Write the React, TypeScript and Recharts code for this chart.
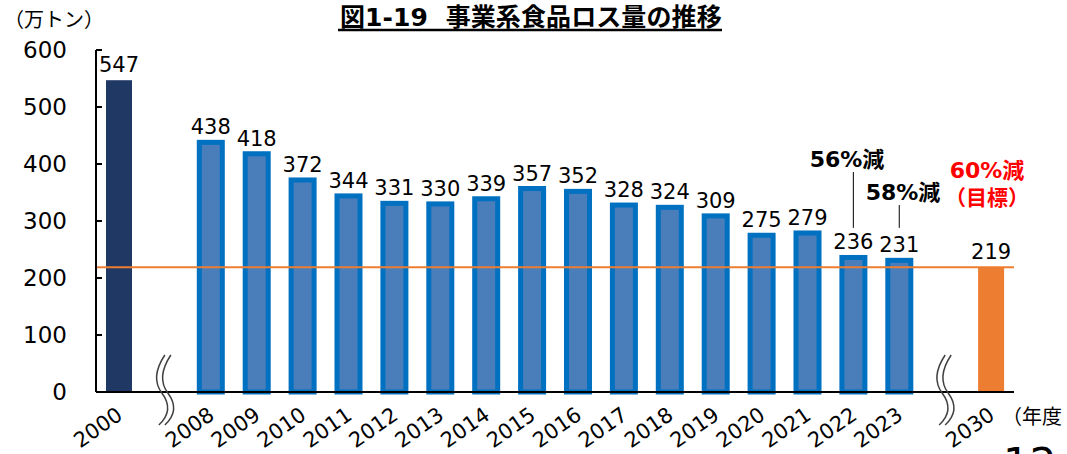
import React from "react"
import { BarChart, Bar, XAxis, YAxis, LabelList, ReferenceLine } from "recharts"

// 年度 (空白はグラフの省略部分)
const years = ["2000", " ", "2008", "2009", "2010", "2011", "2012", "2013", "2014", "2015", "2016", "2017", "2018", "2019", "2020", "2021", "2022", "2023", "  ", "2030"]
// 事業系食品ロス量 (万トン)
const amounts = [547, null, 438, 418, 372, 344, 331, 330, 339, 357, 352, 328, 324, 309, 275, 279, 236, 231, null, 219]
const yTicks = [0, 100, 200, 300, 400, 500, 600]
const targetValue = 219

const data = years.map((year, i) => ({ year, amount: amounts[i] }))

const NUM_FONT = "'DejaVu Sans', 'Noto Sans CJK JP', sans-serif"
const JP_FONT = "'Noto Sans CJK JP', 'Noto Sans', sans-serif"

const BarShape = (props: any) => {
  const { x, y, width, height, payload } = props
  if (payload.amount == null || !height) return null
  if (payload.year === "2000") {
    return <rect x={x} y={y} width={width} height={height} fill="#203864" />
  }
  if (payload.year === "2030") {
    return <rect x={x} y={y} width={width} height={height} fill="#ED7D31" />
  }
  return (
    <rect x={x + 1.5} y={y} width={width - 3} height={height} fill="#4A7EBB" stroke="#0070C0" strokeWidth={5} />
  )
}

const ValueLabel = (props: any) => {
  const { x, y, width, value, index } = props
  if (value == null) return null
  const up = years[index] === "2030" ? 26 : 8
  return (
    <text x={x + width / 2} y={y - up} textAnchor="middle" fontSize={21} fontFamily={NUM_FONT} fill="#000">
      {value}
    </text>
  )
}

const XTick = (props: any) => {
  const { x, y, payload } = props
  if (String(payload.value).trim() === "") {
    const top = y - 39
    const d = (dx: number) =>
      `M ${x + dx + 3} ${top} C ${x + dx - 9} ${top + 18}, ${x + dx - 6} ${top + 30}, ${x + dx} ${top + 38} S ${x + dx + 10} ${top + 58}, ${x + dx - 3} ${top + 70}`
    return (
      <g>
        <path d={d(-3)} stroke="#404040" strokeWidth={1.5} fill="none" />
        <path d={d(3)} stroke="#404040" strokeWidth={1.5} fill="none" />
      </g>
    )
  }
  return (
    <text
      transform={`translate(${x + 5},${y + 24}) rotate(-35)`}
      textAnchor="end"
      fontSize={21}
      fontFamily={NUM_FONT}
      fill="#000"
    >
      {payload.value}
    </text>
  )
}

const YTick = (props: any) => {
  const { x, y, payload } = props
  return (
    <g>
      <text x={x - 1} y={y} dy="0.36em" textAnchor="end" fontSize={23} fontFamily={NUM_FONT} fill="#000">
        {payload.value}
      </text>
      <line x1={x + 28} x2={x + 34} y1={y} y2={y} stroke="#000" strokeWidth={2} />
    </g>
  )
}

const Notes = () => (
  <svg width={1067} height={454} style={{ position: "absolute", left: 0, top: 0, pointerEvents: "none" }}>
    <text x={340} y={26} fontSize={25} fontWeight="bold" fontFamily={NUM_FONT} fill="#000" letterSpacing={0.1} style={{ whiteSpace: "pre" }}>
      図1-19  事業系食品ロス量の推移
    </text>
    <line x1={338} x2={722} y1={30} y2={30} stroke="#000" strokeWidth={2.5} />
    <text x={4} y={27} fontSize={20} fontFamily={JP_FONT} fill="#000">（万トン）</text>
    <text x={847} y={167} textAnchor="middle" fontSize={22} fontWeight="bold" fontFamily={NUM_FONT} fill="#000">56%減</text>
    <text x={903} y={200} textAnchor="middle" fontSize={22} fontWeight="bold" fontFamily={NUM_FONT} fill="#000">58%減</text>
    <text x={987} y={178} textAnchor="middle" fontSize={22} fontWeight="bold" fontFamily={NUM_FONT} fill="#FF0000">60%減</text>
    <text x={987} y={205} textAnchor="middle" fontSize={21} fontWeight="bold" fontFamily={JP_FONT} fill="#FF0000">（目標）</text>
    <text x={1002} y={424} fontSize={20} fontFamily={JP_FONT} fill="#000">（年度</text>
    <text x={1003} y={478} fontSize={42} fontFamily={NUM_FONT} fill="#000">12</text>
  </svg>
)

export default function App() {
  return (
    <div style={{ position: "absolute", left: 0, top: 0, width: 1067, height: 454, overflow: "hidden", background: "#fff" }}>
      <BarChart width={1067} height={454} data={data} margin={{ top: 50, right: 53, bottom: 0, left: 0 }} barSize={26}>
        <XAxis
          dataKey="year"
          interval={0}
          tickLine={false}
          tickSize={0}
          axisLine={{ stroke: "#000", strokeWidth: 2 }}
          height={62}
          tick={<XTick />}
        />
        <YAxis
          domain={[0, 600]}
          ticks={yTicks}
          width={96}
          tickLine={false}
          tickSize={0}
          tickMargin={28}
          axisLine={{ stroke: "#000", strokeWidth: 2 }}
          tick={<YTick />}
        />
        <ReferenceLine y={targetValue} stroke="#ED7D31" strokeWidth={2} />
        <ReferenceLine segment={[{ x: "2022", y: 288 }, { x: "2022", y: 386 }]} stroke="#000" strokeWidth={1} />
        <ReferenceLine segment={[{ x: "2023", y: 288 }, { x: "2023", y: 328 }]} stroke="#000" strokeWidth={1} />
        <Bar dataKey="amount" shape={<BarShape />} isAnimationActive={false}>
          <LabelList dataKey="amount" content={<ValueLabel />} />
        </Bar>
      </BarChart>
      <Notes />
    </div>
  )
}
